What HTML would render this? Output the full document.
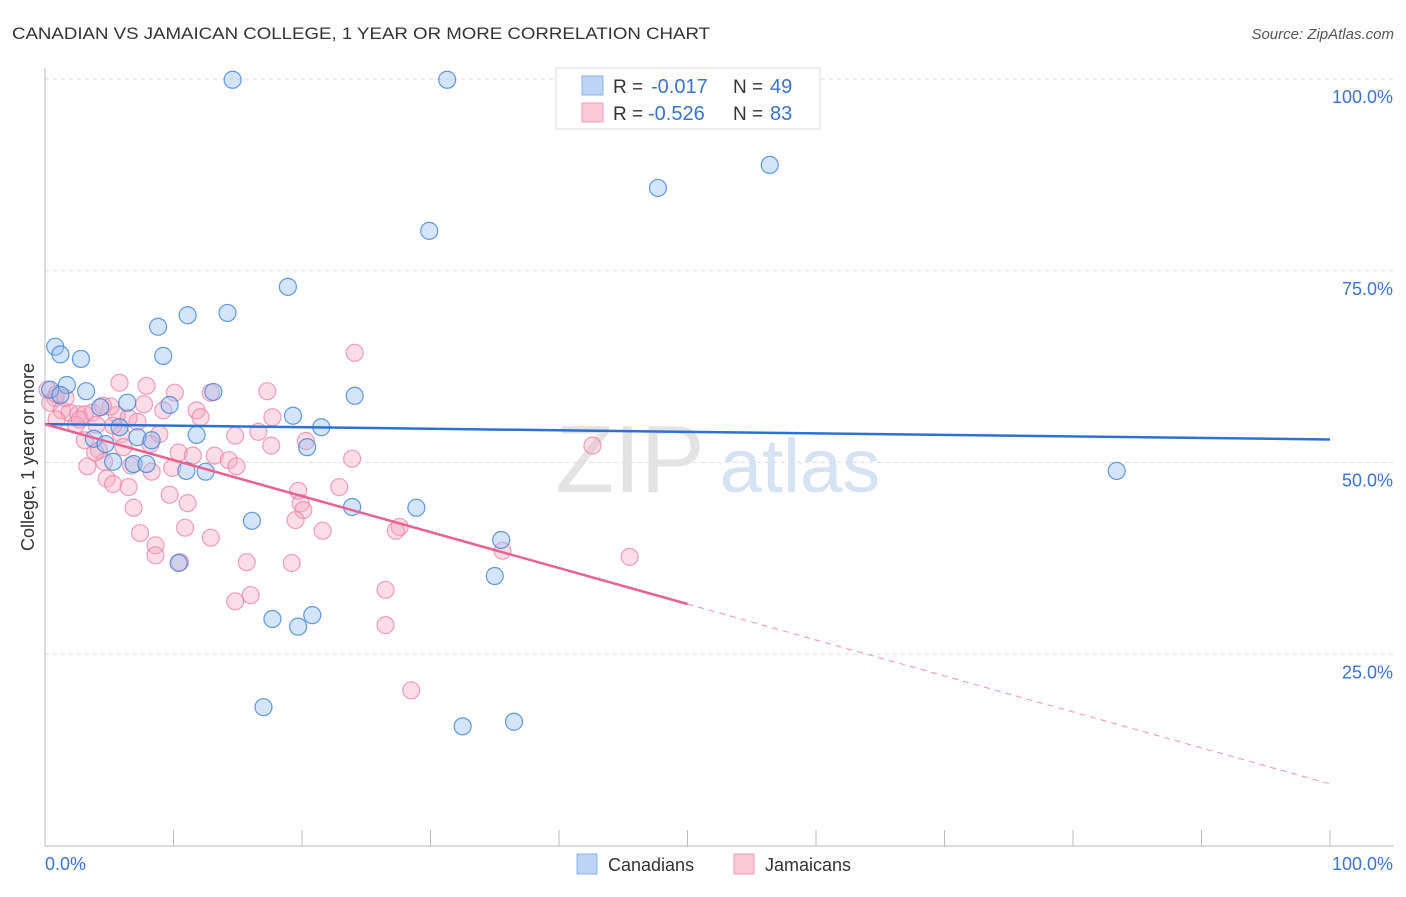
<!DOCTYPE html>
<html><head><meta charset="utf-8"><style>
body{margin:0;background:#fff;font-family:"Liberation Sans",sans-serif;}
svg text{font-family:"Liberation Sans",sans-serif;}
</style></head><body>
<svg id="chart" width="1406" height="892" xmlns="http://www.w3.org/2000/svg">
<text x="12" y="39" font-size="17" fill="#333" textLength="698" lengthAdjust="spacingAndGlyphs">CANADIAN VS JAMAICAN COLLEGE, 1 YEAR OR MORE CORRELATION CHART</text>
<text x="1394" y="39" font-size="15" fill="#555" font-style="italic" text-anchor="end">Source: ZipAtlas.com</text>
<g>
<text x="630" y="492" font-size="96" fill="#e3e3e3" font-family="Liberation Serif,serif" text-anchor="middle">ZIP</text>
<text x="800" y="492" font-size="76" fill="#d6e3f3" text-anchor="middle">atlas</text>
</g>
<g id="grid"></g>
<g id="axes"></g>
<g id="points"></g>
<g id="lines"></g>
<g>
<rect x="556" y="68" width="264" height="61" fill="#fff" stroke="#ddd"/>
<rect x="582" y="76" width="21" height="19" fill="#bcd5f5" stroke="#8ab3e8"/>
<rect x="582" y="103" width="21" height="19" fill="#fbc9d8" stroke="#f0a0b8"/>
<text x="613" y="93" font-size="19" fill="#333">R =</text>
<text x="651" y="93" font-size="20" fill="#3a74d0">-0.017</text>
<text x="733" y="93" font-size="19" fill="#333">N =</text>
<text x="770" y="93" font-size="20" fill="#3a74d0">49</text>
<text x="613" y="120" font-size="19" fill="#333">R =</text>
<text x="648" y="120" font-size="20" fill="#3a74d0">-0.526</text>
<text x="733" y="120" font-size="19" fill="#333">N =</text>
<text x="770" y="120" font-size="20" fill="#3a74d0">83</text>
</g>
<g>
<rect x="577" y="854" width="20" height="20" fill="#bcd5f5" stroke="#8ab3e8"/>
<text x="608" y="871" font-size="18" fill="#333">Canadians</text>
<rect x="734" y="854" width="20" height="20" fill="#fbc9d8" stroke="#f0a0b8"/>
<text x="765" y="871" font-size="18" fill="#333">Jamaicans</text>
</g>
</svg>
<script>
const yTicks=[25,50,75,100];
const yTickLabels=["25.0%","50.0%","75.0%","100.0%"];
const blueX=[14.6,31.3,56.4,47.7,29.9,18.9,14.2,11.1,8.8,0.8,1.2,2.8,9.2,1.7,3.2,13.1,24.1,6.4,4.3,9.7,19.3,5.8,21.5,3.8,7.2,11.8,8.3,4.7,20.4,6.9,5.3,7.9,11,12.5,83.4,23.9,28.9,16.1,35.5,10.4,35,20.8,17.7,19.7,17,32.5,36.5,0.4,1.2];
const blueY=[99.9,99.9,88.8,85.8,80.2,72.9,69.5,69.2,67.7,65.1,64.1,63.5,63.9,60.1,59.3,59.2,58.7,57.8,57.2,57.5,56.1,54.6,54.6,53.1,53.3,53.6,52.9,52.4,52.0,49.8,50.1,49.8,48.9,48.8,48.9,44.2,44.1,42.4,39.9,36.9,35.2,30.1,29.6,28.6,18.1,15.6,16.2,59.5,58.8];
const pinkX=[0.2,0.8,0.4,1.3,1.9,2.6,3.1,3.7,2.4,5.8,7.9,10.1,12.9,17.3,24.1,7.7,9.2,11.8,5.6,17.7,5.1,16.6,5.9,8.9,3.1,8.2,4.2,6.1,17.6,20.3,42.6,10.4,11.5,13.2,14.3,14.9,23.9,3.3,4.6,6.7,9.9,8.3,4.8,5.3,6.5,9.7,19.7,22.9,6.9,11.1,19.9,20.1,19.5,10.9,21.6,27.6,27.3,7.4,12.9,8.6,35.6,8.6,10.5,15.7,19.2,45.5,26.5,16,14.8,26.5,28.5,0.9,1.6,2.7,4,5.3,7.2,12.1,14.8,3.9,6.5,4.5,0.9];
const pinkY=[59.5,58.4,57.8,56.8,56.5,56.3,56.3,56.5,54.9,60.4,60,59.1,59.1,59.3,64.3,57.6,56.8,56.8,56.2,55.9,57.3,54.0,53.7,53.7,52.9,52.4,51.6,52,52.2,52.8,52.2,51.3,50.9,50.9,50.3,49.5,50.5,49.5,50.1,49.6,49.3,48.8,47.9,47.2,46.8,45.8,46.3,46.8,44.1,44.7,44.7,43.8,42.5,41.5,41.1,41.6,41.1,40.8,40.2,39.2,38.5,37.9,37.0,37.0,36.9,37.7,33.4,32.7,31.9,28.8,20.3,58.9,58.4,55.6,54.9,54.8,55.3,55.9,53.5,51.3,55.8,57.4,55.6];
const blueLine=[55.0,53.0];
const pinkLine=[55.0,8.1];
const pinkSolidEnd=50;
const NS="http://www.w3.org/2000/svg";
const X=v=>45+v*12.85, Y=v=>846-v*7.67;
function mk(t,a,p){const e=document.createElementNS(NS,t);for(const k in a)e.setAttribute(k,a[k]);p.appendChild(e);return e;}
const grid=document.getElementById('grid'),axes=document.getElementById('axes'),pts=document.getElementById('points'),lines=document.getElementById('lines');
yTicks.forEach((t,i)=>{
 const g=mk('line',{x1:45,x2:1394,y1:Y(t),y2:Y(t),stroke:'#ddd','stroke-dasharray':'4,4'},grid);
 
 
 const l=mk('text',{x:1393,y:Y(t)+24,'font-size':18,fill:'#3a74d0','text-anchor':'end'},axes);
 l.textContent=yTickLabels[i];
 
 
});
mk('line',{x1:45,x2:45,y1:68,y2:846,stroke:'#bbb'},axes);
mk('line',{x1:45,x2:1394,y1:846,y2:846,stroke:'#bbb'},axes);
for(let i=1;i<=10;i++){mk('line',{x1:X(i*10),x2:X(i*10),y1:830,y2:846,stroke:'#bbb'},axes);}
const x0=mk('text',{x:45,y:870,'font-size':18,fill:'#3a74d0'},axes);x0.textContent='0.0%';


const x1=mk('text',{x:1393,y:870,'font-size':18,fill:'#3a74d0','text-anchor':'end'},axes);x1.textContent='100.0%';


const yt=mk('text',{x:0,y:0,'font-size':18,fill:'#333','text-anchor':'middle',transform:'translate(34,457) rotate(-90)'},axes);yt.textContent='College, 1 year or more';


pinkX.forEach((v,i)=>{const c=mk('circle',{cx:X(v),cy:Y(pinkY[i]),r:8.5,fill:'rgba(246,170,195,0.4)',stroke:'rgba(235,130,165,0.75)','stroke-width':1.2},pts);
 
 });
blueX.forEach((v,i)=>{const c=mk('circle',{cx:X(v),cy:Y(blueY[i]),r:8.5,fill:'rgba(150,190,240,0.4)',stroke:'rgba(60,130,215,0.8)','stroke-width':1.2},pts);
 
 });
const bl=mk('line',{x1:X(0),y1:Y(blueLine[0]),x2:X(100),y2:Y(blueLine[1]),stroke:'#2c72d2','stroke-width':2.5},lines);


const pm=pinkLine[0]+(pinkLine[1]-pinkLine[0])*pinkSolidEnd/100;
const pl=mk('line',{x1:X(0),y1:Y(pinkLine[0]),x2:X(pinkSolidEnd),y2:Y(pm),stroke:'#e8638f','stroke-width':2.5},lines);


const pd=mk('line',{x1:X(pinkSolidEnd),y1:Y(pm),x2:X(100),y2:Y(pinkLine[1]),stroke:'#e8638f','stroke-width':1,'stroke-dasharray':'6,5','opacity':0.7},lines);


</script>
</body></html>
